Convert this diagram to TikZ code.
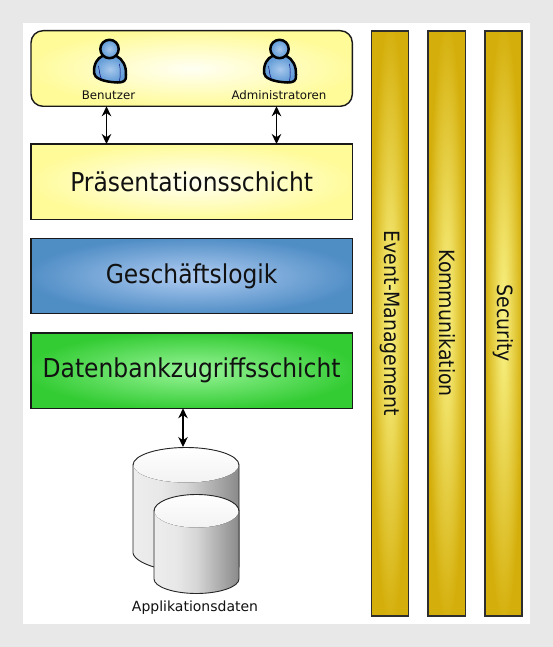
\documentclass[tikz,border=0pt]{standalone}
\usepackage{fontspec}
\setmainfont{DejaVu Sans}
\newfontfamily\condfont{DejaVu Sans Condensed}
\usetikzlibrary{arrows.meta,calc}
\definecolor{ybA}{HTML}{FFFFF4}\definecolor{ybB}{HTML}{FFFB98}
\definecolor{blA}{HTML}{B0CCF2}\definecolor{blB}{HTML}{4F8DC5}
\definecolor{grA}{HTML}{98F498}\definecolor{grB}{HTML}{33CC33}
\definecolor{goA}{HTML}{FAF488}\definecolor{goB}{HTML}{D4AE0A}
\definecolor{psA}{HTML}{A8C8EC}\definecolor{psB}{HTML}{5F9AD6}
\pgfdeclareradialshading{shY}{\pgfpoint{0bp}{0bp}}{color(0bp)=(ybA);color(26bp)=(ybB);color(50bp)=(ybB)}
\pgfdeclareradialshading{shB}{\pgfpoint{0bp}{0bp}}{color(0bp)=(blA);color(26bp)=(blB);color(50bp)=(blB)}
\pgfdeclareradialshading{shG}{\pgfpoint{0bp}{0bp}}{color(0bp)=(grA);color(26bp)=(grB);color(50bp)=(grB)}
\pgfdeclareradialshading{shO}{\pgfpoint{0bp}{0bp}}{color(0bp)=(goA);color(26bp)=(goB);color(50bp)=(goB)}
\pgfdeclareradialshading{shP}{\pgfpoint{0bp}{0bp}}{color(0bp)=(psA);color(24bp)=(psB);color(50bp)=(psB)}
\pgfdeclarehorizontalshading{shCyl}{100bp}{color(0bp)=(white!93!black);color(25bp)=(white!93!black);color(38bp)=(white!91!black);color(50bp)=(white!84!black);color(75bp)=(white!54!black);color(100bp)=(white!54!black)}
\definecolor{txt}{HTML}{111111}
\tikzset{
  layerbox/.style={draw=black!90,line width=1.4pt,outer sep=0pt,minimum width=321.3pt,minimum height=75.3pt,inner sep=0pt,anchor=north west,font=\condfont\fontsize{26}{30}\selectfont,text=txt},
  barbox/.style={draw=black!82,line width=1.5pt,outer sep=0pt,minimum width=37.2pt,minimum height=585pt,inner sep=0pt,anchor=north west,shading=shO},
  barlabel/.style={rotate=-90,font=\condfont\fontsize{21}{25}\selectfont,text=txt},
  duplex/.style={{Stealth[length=10pt,width=9.5pt]}-{Stealth[length=10pt,width=9.5pt]},line width=1.1pt},
  personlabel/.style={font=\fontsize{11.8}{14}\selectfont,text=txt},
  personline/.style={draw=black,line width=2.5pt,shading=shP},
  cyl/.style={draw=black!85,line width=0.9pt},
  cyltop/.style={top color=white,bottom color=black!5},
}
\newcommand{\personicon}[1]{%
  \begin{scope}[shift={(#1)}]
    \path[personline] (-7,7) .. controls (-12,9) and (-16,15) .. (-15.5,24)
      .. controls (-15.5,29) and (-6,33) .. (8,33.5)
      .. controls (14,33.5) and (17,32) .. (16.5,26)
      .. controls (17,17) and (13,10) .. (7,7) -- cycle;
    \draw[line width=0.5pt,draw=blue!45!black] (-11,17) .. controls (-10,22) and (-10,26) .. (-8,30);
    \draw[line width=0.5pt,draw=blue!45!black] (10,15) .. controls (11,21) and (11,27) .. (10,32);
    \path[personline] (0,0) circle[radius=9.2];
  \end{scope}}
\begin{document}
\begin{tikzpicture}[x=1pt,y=-1pt]
\useasboundingbox (0,0) rectangle (553,647);
\fill[black!9] (0,0) rectangle (553,647);
\fill[white] (23,23) rectangle (530,624);
% layers
\node[layerbox,shading=shY,rounded corners=12pt,minimum height=75.6pt] (users) at (31,30.7) {};
\node[layerbox,shading=shY] (praes) at (31,144) {Präsentationsschicht};
\node[layerbox,shading=shB] (logik) at (31,238.4) {Geschäftslogik};
\node[layerbox,shading=shG] (daten) at (31,333) {Datenbankzugriffsschicht};
% bars
\node[barbox] (event) at (371.4,30.8) {};
\node[barbox] (komm) at (428.1,30.8) {};
\node[barbox] (sec) at (484.8,30.8) {};
\node[barlabel] at (event.center) {Event-Management};
\node[barlabel] at ([xshift=1pt]komm.center) {Kommunikation};
\node[barlabel] at (sec.center) {Security};
% persons
\personicon{109.5,49}
\personicon{279.5,49}
\node[personlabel] (benutzer) at (108.5,95) {Benutzer};
\node[personlabel] (admin) at (279,95) {Administratoren};
% database
\path[cyl,shading=shCyl] (133,465) -- (133,553) .. controls (134,559) and (144,564) .. (154,567) -- (239,567) -- (239,465) -- cycle;
\fill[cyltop] (186,465) ellipse[x radius=52.6,y radius=17.5];
\draw[cyl] (133,465) arc[start angle=180,end angle=360,x radius=53,y radius=17.5];
\path[cyl,shading=shCyl] (154,511) -- (154,579) .. controls (154,587) and (174,593.5) .. (196.5,593.5) .. controls (219,593.5) and (239,587) .. (239,579) -- (239,511) -- cycle;
\fill[cyltop] (196.5,511) ellipse[x radius=42.1,y radius=16.5];
\draw[cyl] (154,511) arc[start angle=180,end angle=360,x radius=42.5,y radius=16.5];
\node[font=\fontsize{14}{16}\selectfont,text=txt] (appl) at (195,608) {Applikationsdaten};
% connectors
\coordinate (u1) at (106.5,0);
\coordinate (u2) at (276.5,0);
\coordinate (dbx) at (183,0);
\coordinate (dbtop) at (183,447);
\draw[duplex] (users.south -| u1) -- (praes.north -| u1);
\draw[duplex] (users.south -| u2) -- (praes.north -| u2);
\draw[duplex] (daten.south -| dbx) -- (dbtop);
\end{tikzpicture}
\end{document}
